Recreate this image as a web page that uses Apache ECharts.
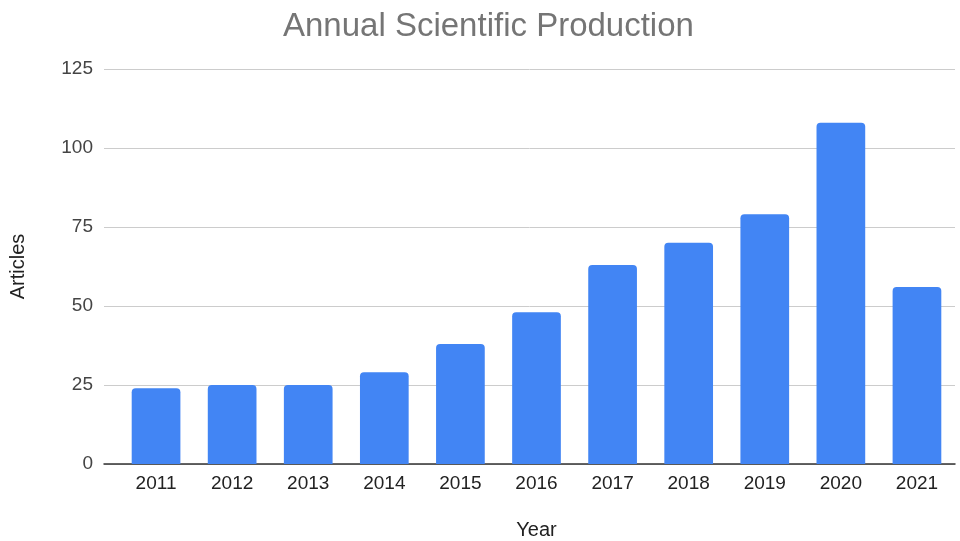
<!DOCTYPE html>
<html>
<head>
<meta charset="utf-8">
<style>
  html, body { margin: 0; padding: 0; background: #fff; }
  #chart { width: 960px; height: 541px; }
</style>
<script src="https://cdn.jsdelivr.net/npm/echarts@6/dist/echarts.min.js"></script>
</head>
<body>
<div id="chart"></div>
<script>
// data
const years = ['2011', '2012', '2013', '2014', '2015', '2016', '2017', '2018', '2019', '2020', '2021'];
const articles = [24, 25, 25, 29, 38, 48, 63, 70, 79, 108, 56];
const yTicks = [0, 25, 50, 75, 100, 125];

const font = 'Arial, "Liberation Sans", sans-serif';
const chart = echarts.init(document.getElementById('chart'));

chart.setOption({
  animation: false,
  title: {
    text: 'Annual Scientific Production',
    left: 278,
    top: 5,
    textStyle: { color: '#757575', fontSize: 33, fontWeight: 'normal', fontFamily: font }
  },
  grid: [
    // background grid: gridlines + baseline reach further left than the bars
    { left: 104, right: 5, top: 69, bottom: 77, outerBoundsMode: 'none' },
    // bars
    { left: 118, right: 5, top: 69, bottom: 77, outerBoundsMode: 'none' }
  ],
  xAxis: [
    {
      gridIndex: 0, type: 'value', min: 0, max: 1,
      axisLine: { show: true, lineStyle: { color: '#333', width: 1.5 } },
      axisTick: { show: false }, axisLabel: { show: false }, splitLine: { show: false }
    },
    {
      gridIndex: 1, type: 'category', data: years,
      name: 'Year', nameLocation: 'middle', nameGap: 56,
      nameTextStyle: { color: '#222', fontSize: 20, fontFamily: font },
      axisLine: { show: false }, axisTick: { show: false },
      axisLabel: { color: '#222', fontSize: 19, margin: 10, fontFamily: font }
    }
  ],
  yAxis: [
    {
      gridIndex: 0, type: 'value', min: yTicks[0], max: yTicks[yTicks.length - 1], interval: 25,
      name: 'Articles', nameLocation: 'middle', nameGap: 76, nameRotate: 90,
      nameTextStyle: { color: '#222', fontSize: 20, fontFamily: font },
      axisLine: { show: false }, axisTick: { show: false },
      axisLabel: { color: '#444', fontSize: 19, margin: 11, fontFamily: font },
      splitLine: { lineStyle: { color: '#cccccc', width: 1 } }
    },
    {
      gridIndex: 1, type: 'value', min: yTicks[0], max: yTicks[yTicks.length - 1], interval: 25,
      axisLine: { show: false }, axisTick: { show: false },
      axisLabel: { show: false }, splitLine: { show: false }
    }
  ],
  series: [{
    name: 'Articles',
    type: 'bar',
    xAxisIndex: 1,
    yAxisIndex: 1,
    data: articles,
    barCategoryGap: '36%',
    itemStyle: { color: '#4285F4', borderRadius: [4, 4, 0, 0] }
  }]
});
</script>
</body>
</html>
